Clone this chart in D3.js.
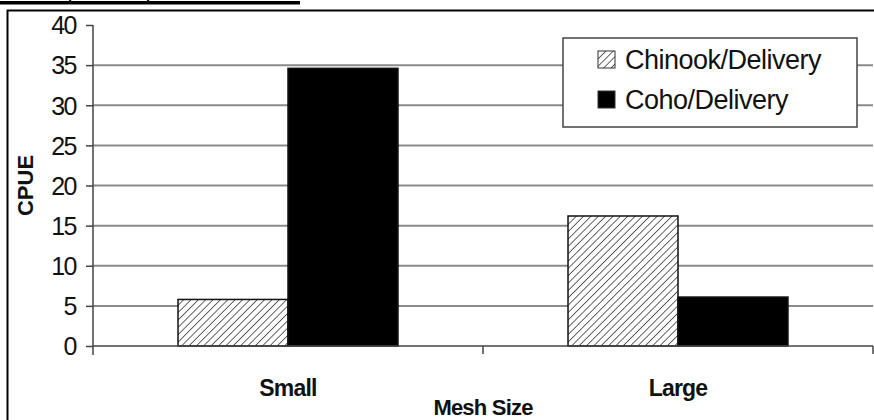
<!DOCTYPE html>
<html>
<head>
<meta charset="utf-8">
<style>
body { margin: 0; background: #fff; }
text { font-family: "Liberation Sans", Arial, sans-serif; fill: #111; }
.grid line { stroke: #8a8a8a; stroke-width: 2; }
.axis path, .axis line { stroke: #444; stroke-width: 1.5; }
</style>
</head>
<body>
<svg width="874" height="420"></svg>
<script src="https://cdn.jsdelivr.net/npm/d3@7"></script>
<script>
// values
var categories = ["Small", "Large"];
var series = ["Chinook/Delivery", "Coho/Delivery"];
var chinook = [5.8, 16.2];
var coho = [34.6, 6.1];
var yTicks = [0, 5, 10, 15, 20, 25, 30, 35, 40];

var svg = d3.select("svg");

var plotL = 93, plotR = 873, plotT = 25, plotB = 346;

var x = d3.scaleBand().domain(categories).range([plotL, plotR]).padding(0);
var x1 = d3.scaleBand().domain(series).range([0, x.bandwidth()])
    .paddingInner(0).paddingOuter(0.773);
var y = d3.scaleLinear().domain([0, 40]).range([plotB, plotT]);

// hatch pattern for chinook
var defs = svg.append("defs");
var pat = defs.append("pattern")
    .attr("id", "hatch")
    .attr("patternUnits", "userSpaceOnUse")
    .attr("width", 5.2).attr("height", 5.2)
    .attr("patternTransform", "rotate(45)");
pat.append("rect").attr("width", 5.2).attr("height", 5.2).attr("fill", "#fff");
pat.append("line").attr("x1", 0).attr("y1", 0).attr("x2", 0).attr("y2", 5.2)
    .attr("stroke", "#4a4a4a").attr("stroke-width", 1.7);

// cropped heading remnants above the frame
svg.append("rect").attr("x", 0).attr("y", 1).attr("width", 300).attr("height", 3.5).attr("fill", "#000");
svg.append("path").attr("d", "M71,0 L69,1.5 M149,0 L147,1.5").attr("stroke", "#000").attr("stroke-width", 1.5);

// outer frame (runs off right and bottom)
svg.append("path").attr("d", "M7.5,440 L7.5,10.5 L900,10.5")
    .attr("fill", "none").attr("stroke", "#000").attr("stroke-width", 2);

// gridlines
svg.append("g").attr("class", "grid")
  .selectAll("line")
  .data(yTicks.filter(function(d) { return d > 0 && d < 40; }))
  .enter().append("line")
    .attr("x1", plotL).attr("x2", plotR)
    .attr("y1", function(d) { return y(d); })
    .attr("y2", function(d) { return y(d); });

// bars
var rows = categories.map(function(c, i) {
  return [{cat: c, s: series[0], v: chinook[i]}, {cat: c, s: series[1], v: coho[i]}];
});
svg.append("g").selectAll("g")
  .data(rows)
  .enter().append("g")
    .attr("transform", function(d) { return "translate(" + x(d[0].cat) + ",0)"; })
  .selectAll("rect")
  .data(function(d) { return d; })
  .enter().append("rect")
    .attr("x", function(d) { return x1(d.s); })
    .attr("width", x1.bandwidth())
    .attr("y", function(d) { return y(d.v); })
    .attr("height", function(d) { return y(0) - y(d.v); })
    .attr("fill", function(d) { return d.s === series[0] ? "url(#hatch)" : "#000"; })
    .attr("stroke", "#111")
    .attr("stroke-width", 1.5);

// y axis
var yAxis = svg.append("g").attr("class", "axis")
    .attr("transform", "translate(" + plotL + ",0)")
    .call(d3.axisLeft(y).tickValues(yTicks).tickSize(7).tickSizeOuter(0).tickPadding(10));
yAxis.select(".domain").attr("d", "M0," + plotT + "V" + (plotB + 9));
yAxis.selectAll("text").style("font-size", "25px").style("fill", "#111")
    .attr("dy", "0.35em").attr("letter-spacing", "-1.5");

// x axis
var xAxis = svg.append("g").attr("class", "axis")
    .attr("transform", "translate(0," + plotB + ")");
xAxis.append("line").attr("x1", plotL).attr("x2", plotR).attr("y1", 0).attr("y2", 0);
xAxis.selectAll(".tk")
  .data([(plotL + plotR) / 2, plotR])
  .enter().append("line")
    .attr("x1", function(d) { return d; }).attr("x2", function(d) { return d; })
    .attr("y1", 0).attr("y2", 8);
xAxis.selectAll(".lab")
  .data(categories)
  .enter().append("text")
    .attr("x", function(d) { return x(d) + x.bandwidth() / 2; })
    .attr("y", 50)
    .attr("text-anchor", "middle")
    .style("font-size", "23px").style("font-weight", "bold")
    .attr("letter-spacing", "-0.8")
    .text(function(d) { return d; });

// axis titles
svg.append("text")
    .attr("x", (plotL + plotR) / 2).attr("y", 415)
    .attr("text-anchor", "middle")
    .style("font-size", "22px").style("font-weight", "bold")
    .attr("letter-spacing", "-0.8")
    .text("Mesh Size");
svg.append("text")
    .attr("transform", "translate(33," + ((plotT + plotB) / 2) + ") rotate(-90)")
    .attr("text-anchor", "middle")
    .style("font-size", "22px").style("font-weight", "bold")
    .text("CPUE");

// legend
var lg = svg.append("g").attr("transform", "translate(563,38)");
lg.append("rect").attr("width", 294).attr("height", 89)
    .attr("fill", "#fff").attr("stroke", "#444").attr("stroke-width", 1.5);
var item = lg.selectAll(".item")
  .data(series)
  .enter().append("g")
    .attr("transform", function(d, i) { return "translate(35," + (13 + i * 40) + ")"; });
item.append("rect")
    .attr("width", 17).attr("height", 17)
    .attr("fill", function(d, i) { return i === 0 ? "url(#hatch)" : "#000"; })
    .attr("stroke", "#333").attr("stroke-width", 1);
item.append("text")
    .attr("x", 27).attr("y", 9).attr("dy", "0.35em")
    .style("font-size", "27px")
    .attr("letter-spacing", "-0.5")
    .text(function(d) { return d; });
</script>
</body>
</html>
